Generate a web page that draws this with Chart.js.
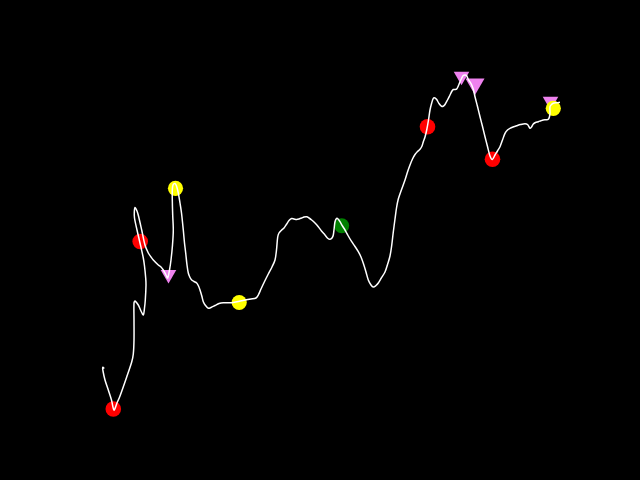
<!DOCTYPE html>
<html>
<head>
<meta charset="utf-8">
<script src="https://cdn.jsdelivr.net/npm/chart.js@4"></script>
<style>
  html, body { margin: 0; padding: 0; background: #000; }
  #wrap { width: 640px; height: 480px; background: #000; }
  canvas { display: block; background: #000; }
</style>
</head>
<body>
<div id="wrap"><canvas id="c" width="640" height="480"></canvas></div>
<script>
// Path of the series (x, value)
const pathX = [104.3,102.7,103,105,108.3,111.5,114,117,120,126.7,131.7,133.3,134,134,134,135,138.3,141,143.3,144.5,145.3,146,145.7,144.5,143.3,140,137,134.5,134.3,135,137,138.5,141.7,145,148.3,151,153.3,158.3,161,163.3,166,167.7,169.5,171,172.5,173.3,172.7,172.3,172.3,173,175,176.5,178.3,180,181.5,183.3,184.5,185.7,187,188.3,190,191.7,194,196.7,198.5,200,201.8,203.3,205.5,208.3,211,215,219,223.3,231.7,241.7,251,256,258.3,261,264.3,268.3,272,275,276.5,277.7,279,281.7,284,286.7,289,291.7,294,296.7,299,301.7,304,306.7,309,311.7,315,318.3,321.5,325,328,330,332,333.3,334.2,335,336.7,338.5,340,342.5,345,348,351.7,355,358.3,361,363.3,366,368.3,371,373.3,376,378.3,381,385,388,390,391.5,393.3,395,396.5,398.3,401,405,407.5,410,412.5,415,417.5,420,422,423.3,425,426.7,428.5,430,431.7,433.3,435,436.7,439,441.7,443.5,445,447.5,450,452,453.3,455,456.7,458.5,460,461.8,463.3,465,466.5,468.3,470,471.7,473.5,475,477.5,480,482.5,485,487.5,490,492.3,495,497.5,500,502.5,505,507.5,510,513,516.7,520.5,525,527.5,530,531.5,533.3,535.5,538.3,541,543.3,546,548.3,549.5,550,550,551.5,553.3,556.5,560];
const pathY = [368.5,367.3,371,380,390,400,410,403,396,377,362,354,340,320,303,301,305,311,315,308,300,285,278,266,258,243,230,218,212,207.5,211,216,230,245,253,257,260,265,267,270,275,278,270,260,245,230,215,200,190,185,183.5,186,193,203,213,230,243,253,265,273,277.5,280,281.5,283,286,290,296,301.7,305.5,308.3,307.5,305.5,303.5,302.7,302.7,300.7,299,298,295,289,282,274,267,260,250,237,233,230,228,224,220.5,218.5,219,219.5,219,218,217,216.7,218,220,223,226.7,231,235,238.5,239.3,238,235,228,221.7,218.3,219.5,221.7,226,230,235.5,241.7,246.5,251.7,257,263.3,272,280,285,287,285.5,283,278.5,272,263,256,247,232,219,208,199,191,180,172,165,159,154.5,151.5,149.3,146,141.7,137,130,120,110,103,98.3,98,99.5,103.5,106.3,106,104.5,100,95,91,89.5,89.5,89,85.5,81.7,78,75.5,75,75.5,79.5,82,85,90,96.7,106.5,116.7,126.5,136.7,146.5,156,159.5,155,151,146.7,140,133.3,130,128.3,127,125.7,124.5,123.7,124.5,128.3,127,124,122.5,121.7,120.7,120,119.7,119.3,116.5,113.3,106.7,104.5,103.3,102.7,102.3].map(v => 480 - v);

// Signal markers
const redX = [113.3, 140.2, 427.5, 492.5];
const redY = [409, 241.5, 126.7, 159.2].map(v => 480 - v);
const yellowX = [175.5, 239.2, 553.3];
const yellowY = [188.3, 302.5, 108.3].map(v => 480 - v);
const greenX = [341.7];
const greenY = [225.8].map(v => 480 - v);
const violetX = [168.5, 461.5, 475, 550.5];
const violetY = [274.5, 76.2, 84, 101.2].map(v => 480 - v);
const violetSize = [9, 9, 11, 9];

const toPts = (xs, ys) => xs.map((x, i) => ({ x: x, y: ys[i] }));

new Chart(document.getElementById('c'), {
  type: 'scatter',
  data: {
    datasets: [
      {
        data: toPts(pathX, pathY),
        showLine: true,
        borderColor: '#ffffff',
        borderWidth: 1.5,
        pointRadius: 0,
        tension: 0.3,
        order: 0
      },
      {
        data: toPts(redX, redY),
        backgroundColor: '#ff0000',
        borderWidth: 0,
        pointRadius: 7.8,
        order: 1
      },
      {
        data: toPts(yellowX, yellowY),
        backgroundColor: '#ffff00',
        borderWidth: 0,
        pointRadius: 7.6,
        order: 2
      },
      {
        data: toPts(greenX, greenY),
        backgroundColor: '#008000',
        borderWidth: 0,
        pointRadius: 7.5,
        order: 3
      },
      {
        data: toPts(violetX, violetY),
        backgroundColor: '#ee82ee',
        borderWidth: 0,
        pointStyle: 'triangle',
        rotation: 180,
        pointRadius: violetSize,
        order: 4
      }
    ]
  },
  options: {
    responsive: false,
    animation: false,
    layout: { padding: 0, autoPadding: false },
    plugins: { legend: { display: false }, tooltip: { enabled: false } },
    scales: {
      x: { type: 'linear', min: 0, max: 640, display: false },
      y: { type: 'linear', min: 0, max: 480, display: false }
    }
  }
});
</script>
</body>
</html>
